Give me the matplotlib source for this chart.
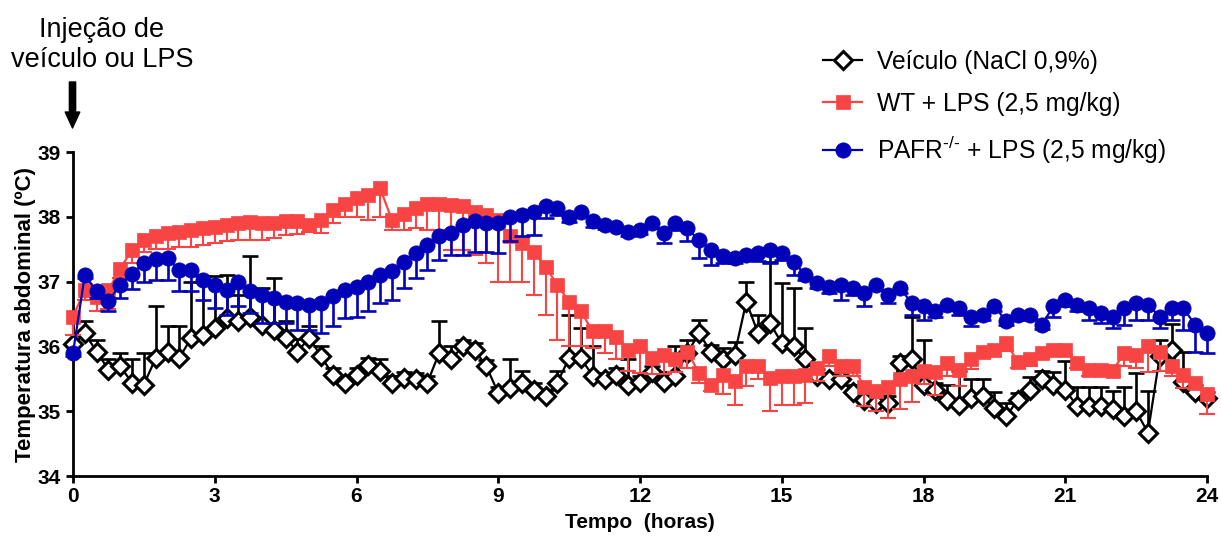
import numpy as np
import matplotlib
matplotlib.use("Agg")
import matplotlib.pyplot as plt
from matplotlib.lines import Line2D

plt.rcParams['font.family'] = ['Liberation Sans', 'DejaVu Sans']
plt.rcParams['mathtext.fontset'] = 'custom'
plt.rcParams['mathtext.rm'] = 'Liberation Sans'

# sampling every 15 min over 24 h
hours = np.arange(0, 24.01, 0.25)

# Veiculo (NaCl 0,9%) - mean and SEM (upper bars)
veiculo = [36.03, 36.20, 35.92, 35.64, 35.69, 35.44, 35.41, 35.82, 35.92, 35.82,
           36.13, 36.18, 36.28, 36.44, 36.39, 36.45, 36.33, 36.26, 36.13, 35.92,
           36.13, 35.85, 35.56, 35.44, 35.56, 35.72, 35.62, 35.44, 35.51, 35.49,
           35.44, 35.90, 35.80, 36.00, 35.95, 35.69, 35.28, 35.36, 35.44, 35.33,
           35.23, 35.44, 35.82, 35.82, 35.54, 35.49, 35.56, 35.41, 35.45, 35.60,
           35.45, 35.55, 35.90, 36.20, 35.92, 35.80, 35.87, 36.69, 36.20, 36.36,
           36.05, 36.00, 35.80, 35.55, 35.49, 35.49, 35.30, 35.18, 35.13, 35.13,
           35.75, 35.80, 35.41, 35.33, 35.18, 35.10, 35.20, 35.23, 35.05, 34.92,
           35.18, 35.33, 35.49, 35.41, 35.33, 35.08, 35.08, 35.08, 35.03, 34.92,
           35.00, 34.67, 35.85, 35.95, 35.45, 35.30, 35.20]
veiculo_sem = [0.00, 0.19, 0.18, 0.16, 0.21, 0.36, 0.49, 0.80, 0.39, 0.49,
               0.87, 0.90, 0.80, 0.66, 0.40, 0.95, 0.57, 0.80, 0.26, 0.20,
               0.18, 0.15, 0.10, 0.10, 0.10, 0.10, 0.18, 0.10, 0.10, 0.10,
               0.10, 0.49, 0.20, 0.10, 0.10, 0.10, 0.10, 0.44, 0.18, 0.10,
               0.10, 0.18, 0.67, 0.46, 0.46, 0.10, 0.10, 0.39, 0.10, 0.10,
               0.15, 0.45, 0.20, 0.20, 0.10, 0.17, 0.20, 0.30, 0.29, 0.95,
               0.93, 0.90, 0.48, 0.10, 0.10, 0.10, 0.10, 0.10, 0.10, 0.10,
               0.10, 0.66, 0.69, 0.10, 0.23, 0.52, 0.30, 0.26, 0.25, 0.20,
               0.10, 0.20, 0.13, 0.20, 0.44, 0.30, 0.30, 0.30, 0.28, 0.46,
               0.59, 0.64, 0.25, 0.40, 0.47, 0.10, 0.10]

# WT + LPS - mean and SEM (lower bars)
wt_lps = [36.46, 36.87, 36.77, 36.87, 37.20, 37.49, 37.64, 37.70, 37.75, 37.77,
          37.80, 37.82, 37.85, 37.87, 37.90, 37.92, 37.90, 37.90, 37.93, 37.93,
          37.88, 37.95, 38.10, 38.20, 38.29, 38.34, 38.44, 37.95, 38.05, 38.13,
          38.20, 38.20, 38.18, 38.16, 38.08, 38.03, 37.95, 37.70, 37.59, 37.46,
          37.23, 36.95, 36.69, 36.54, 36.23, 36.23, 36.15, 35.95, 36.00, 35.82,
          35.87, 35.80, 35.92, 35.59, 35.41, 35.56, 35.46, 35.69, 35.69, 35.51,
          35.54, 35.54, 35.56, 35.67, 35.85, 35.69, 35.69, 35.38, 35.31, 35.38,
          35.49, 35.54, 35.62, 35.60, 35.74, 35.64, 35.80, 35.92, 35.95, 36.05,
          35.76, 35.80, 35.90, 35.95, 35.95, 35.74, 35.64, 35.64, 35.62, 35.90,
          35.87, 36.00, 35.92, 35.69, 35.56, 35.44, 35.26]
wt_sem = [0.28, 0.15, 0.23, 0.30, 0.15, 0.20, 0.18, 0.20, 0.25, 0.23,
          0.26, 0.25, 0.25, 0.25, 0.26, 0.28, 0.26, 0.23, 0.21, 0.20,
          0.12, 0.20, 0.20, 0.20, 0.29, 0.39, 0.44, 0.15, 0.25, 0.30,
          0.40, 0.40, 0.70, 0.67, 0.67, 0.74, 0.95, 0.70, 0.59, 0.66,
          0.74, 0.85, 0.69, 0.54, 0.25, 0.33, 0.35, 0.33, 0.41, 0.25,
          0.30, 0.20, 0.25, 0.15, 0.10, 0.30, 0.36, 0.30, 0.20, 0.51,
          0.44, 0.44, 0.44, 0.20, 0.15, 0.15, 0.15, 0.30, 0.30, 0.48,
          0.45, 0.40, 0.20, 0.35, 0.20, 0.25, 0.15, 0.10, 0.10, 0.12,
          0.10, 0.10, 0.08, 0.08, 0.08, 0.08, 0.10, 0.10, 0.08, 0.20,
          0.20, 0.40, 0.30, 0.15, 0.20, 0.10, 0.30]

# PAFR-/- + LPS - mean and SEM (lower bars)
pafr_lps = [35.90, 37.10, 36.85, 36.70, 36.95, 37.12, 37.29, 37.35, 37.37, 37.18,
            37.18, 37.03, 36.95, 36.87, 37.00, 36.85, 36.80, 36.75, 36.69, 36.67,
            36.64, 36.67, 36.78, 36.87, 36.92, 37.00, 37.10, 37.16, 37.31, 37.44,
            37.57, 37.70, 37.75, 37.87, 37.93, 37.90, 37.90, 38.00, 38.03, 38.08,
            38.16, 38.13, 38.00, 38.08, 37.93, 37.87, 37.85, 37.77, 37.80, 37.90,
            37.75, 37.90, 37.82, 37.64, 37.49, 37.39, 37.36, 37.41, 37.44, 37.49,
            37.44, 37.31, 37.10, 36.98, 36.91, 36.95, 36.90, 36.82, 36.95, 36.80,
            36.90, 36.67, 36.62, 36.54, 36.64, 36.59, 36.46, 36.49, 36.62, 36.39,
            36.49, 36.49, 36.33, 36.62, 36.72, 36.64, 36.59, 36.51, 36.46, 36.59,
            36.67, 36.64, 36.46, 36.59, 36.59, 36.33, 36.20]
pafr_sem = [0.05, 0.05, 0.10, 0.15, 0.20, 0.23, 0.29, 0.32, 0.35, 0.33,
            0.33, 0.31, 0.36, 0.38, 0.38, 0.34, 0.44, 0.39, 0.33, 0.41,
            0.38, 0.47, 0.47, 0.43, 0.46, 0.46, 0.43, 0.44, 0.41, 0.39,
            0.39, 0.36, 0.34, 0.46, 0.47, 0.44, 0.46, 0.38, 0.33, 0.36,
            0.18, 0.10, 0.08, 0.08, 0.08, 0.06, 0.06, 0.06, 0.06, 0.08,
            0.15, 0.10, 0.20, 0.28, 0.23, 0.10, 0.08, 0.08, 0.12, 0.20,
            0.10, 0.21, 0.08, 0.08, 0.08, 0.23, 0.10, 0.20, 0.08, 0.13,
            0.08, 0.18, 0.21, 0.08, 0.08, 0.10, 0.15, 0.08, 0.08, 0.06,
            0.08, 0.06, 0.06, 0.16, 0.10, 0.10, 0.18, 0.15, 0.18, 0.26,
            0.26, 0.23, 0.18, 0.18, 0.33, 0.41, 0.30]

labels = ['Veículo (NaCl 0,9%)', 'WT + LPS (2,5 mg/kg)',
          'PAFR$^{\u2010/\u2010}$ + LPS (2,5 mg/kg)']

RED = '#F94444'
BLUE = '#0202B8'


def draw_series(ax, y, sem, up, color, marker, ms, mfc, mew, elw, z):
    y = np.asarray(y)
    sem = np.asarray(sem)
    end = y + sem if up else y - sem
    ax.vlines(hours, y, end, color=color, lw=elw, zorder=z, clip_on=False)
    ax.plot(hours, end, ls='none', marker='_', ms=11, mew=elw, color=color,
            zorder=z, clip_on=False)
    ax.plot(hours, y, color=color, lw=1.6, marker=marker, ms=ms, mfc=mfc,
            mec=color, mew=mew, zorder=z + 1, clip_on=False)


fig = plt.figure(figsize=(12.22, 5.40), dpi=100)
ax = fig.add_axes([73 / 1222, 64 / 540, 1134 / 1222, 324 / 540])

draw_series(ax, veiculo, veiculo_sem, True, 'black', 'D', 9, 'white', 2.2, 1.9, 2)
draw_series(ax, wt_lps, wt_sem, False, RED, 's', 10.5, RED, 0.5, 1.5, 4)
draw_series(ax, pafr_lps, pafr_sem, False, BLUE, 'o', 11, BLUE, 0.5, 1.9, 6)

ax.set_xlim(0, 24)
ax.set_ylim(34, 39)
ax.set_xticks(np.arange(0, 25, 3))
ax.set_yticks(np.arange(34, 40, 1))
for side in ['top', 'right']:
    ax.spines[side].set_visible(False)
for side in ['left', 'bottom']:
    ax.spines[side].set_linewidth(2.0)
ax.tick_params(direction='out', length=5, width=2.0, labelsize=15)
ax.tick_params(axis='y', pad=4)
ax.tick_params(axis='x', pad=3)
for lab in ax.get_xticklabels() + ax.get_yticklabels():
    lab.set_fontweight('bold')

ax.set_ylabel('Temperatura abdominal (ºC)', fontsize=16, fontweight='bold')
ax.yaxis.set_label_coords(-0.033, 0.5)
ax.set_xlabel('Tempo  (horas)', fontsize=15, fontweight='bold')
ax.xaxis.set_label_coords(0.5, -0.115)

# injection marker above t = 0
fig.text(102, 540 - 36.7, 'Injeção de', transform=None, ha='center',
         va='baseline', fontsize=19.5)
fig.text(102, 540 - 66.7, 'veículo ou LPS', transform=None, ha='center',
         va='baseline', fontsize=19.5)
ax.annotate('', xy=(72.5, 540 - 128), xytext=(72.5, 540 - 82),
            xycoords='figure pixels', textcoords='figure pixels',
            arrowprops=dict(facecolor='black', edgecolor='black', width=4.5,
                            headwidth=10.5, headlength=11.5, shrink=0))

handles = [
    Line2D([], [], color='black', lw=1.6, marker='D', ms=9, mfc='white', mew=2.2),
    Line2D([], [], color=RED, lw=1.6, marker='s', ms=10.5, mfc=RED, mew=0.5),
    Line2D([], [], color=BLUE, lw=1.6, marker='o', ms=11, mfc=BLUE, mew=0.5),
]
fig.legend(handles, labels, loc='upper left', bbox_to_anchor=(823 / 1222, 1 - 50 / 540),
           frameon=False, fontsize=17.7, handlelength=1.6, handletextpad=0.6,
           labelspacing=0.72, borderpad=0, borderaxespad=0)

fig.savefig('out.png', dpi=100)
